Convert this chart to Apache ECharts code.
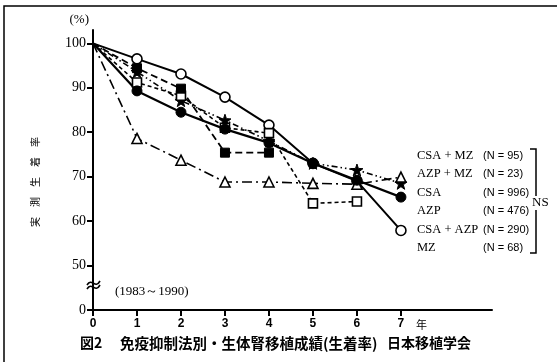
<!DOCTYPE html>
<html><head><meta charset="utf-8">
<script src="https://cdn.jsdelivr.net/npm/echarts@6/dist/echarts.min.js"></script>
<style>html,body{margin:0;padding:0;background:#fff}#c{width:557px;height:362px}</style>
</head><body><div id="c"></div>
<script>
const years = [0, 1, 2, 3, 4, 5, 6, 7];
const xTicks = [0, 1, 2, 3, 4, 5, 6, 7];
const yTicks = [40, 50, 60, 70, 80, 90, 100];
const yTickLabels = {40: '0', 50: '50', 60: '60', 70: '70', 80: '80', 90: '90', 100: '100'};
const names = ['CSA + MZ', 'AZP + MZ', 'CSA', 'AZP', 'CSA + AZP', 'MZ'];
const counts = [95, 23, 996, 476, 290, 68];
const csaMz  = [100, 93.6, 87.1, 82.7, 78.0, 73.0, 71.5, 68.5];
const azpMz  = [100, 94.4, 89.8, 75.4, 75.4];
const csa    = [100, 89.3, 84.5, 80.7, 77.6, 73.0, 69.2, 65.4];
const azp    = [100, 96.5, 93.1, 87.9, 81.6, 73.0, 69.0, 57.9];
const csaAzp = [100, 91.2, 88.2, 81.0, 79.8, 64.0, 64.4];
const mz     = [100, 78.6, 73.7, 68.8, 68.8, 68.5, 68.3, 69.9];

const star = 'path://M5,0 L6.2,3.6 L10,3.8 L7,6.1 L8.1,9.8 L5,7.6 L1.9,9.8 L3,6.1 L0,3.8 L3.8,3.6 Z';
const pair = arr => arr.map((v, i) => i === 0 ? {value: [years[i], v], symbol: 'none'} : [years[i], v]);
const openStyle = {color: '#fff', borderColor: '#000', borderWidth: 1.6};
const fillStyle = {color: '#000', borderColor: '#000', borderWidth: 1};

function mk(name, data, symbol, size, item, dash, width) {
  return {
    name, type: 'line', data: pair(data), symbol, symbolSize: size,
    showSymbol: true, itemStyle: item, animation: false,
    lineStyle: {color: '#000', width: width, type: dash},
    emphasis: {disabled: true}
  };
}

const chart = echarts.init(document.getElementById('c'));
const serif = 'Liberation Serif';
chart.setOption({
  animation: false,
  grid: {left: 93, right: 65, top: 30, bottom: 52},
  xAxis: {
    type: 'value', min: 0, max: 9.07,
    axisLine: {lineStyle: {color: '#000', width: 2}},
    axisTick: {show: true, length: 6, lineStyle: {color: '#000', width: 2}, customValues: xTicks},
    axisLabel: {customValues: xTicks, color: '#000', fontFamily: 'Liberation Sans', fontWeight: 'bold', fontSize: 12, margin: 8},
    splitLine: {show: false}
  },
  yAxis: {
    type: 'value', min: 40, max: 103,
    name: '(%)', nameLocation: 'end', nameGap: 4,
    nameTextStyle: {color: '#000', fontFamily: serif, fontSize: 13, align: 'right', padding: [0, 4, 0, 0]},
    axisLine: {show: true, lineStyle: {color: '#000', width: 2}},
    axisTick: {show: true, length: 6, lineStyle: {color: '#000', width: 2}, customValues: yTicks},
    axisLabel: {customValues: yTicks, formatter: v => yTickLabels[v] || '', color: '#000', fontFamily: serif, fontSize: 14, margin: 7},
    splitLine: {show: false}
  },
  legend: {
    orient: 'vertical', left: 412, top: 149, icon: 'rect', itemWidth: 0, itemHeight: 0,
    itemGap: 5.5, selectedMode: false, padding: 0,
    itemStyle: {color: 'transparent', borderWidth: 0}, lineStyle: {width: 0},
    data: names,
    formatter: n => '{a|' + n + '}{b|(N = ' + counts[names.indexOf(n)] + ')}',
    textStyle: {
      rich: {
        a: {fontFamily: serif, fontSize: 12.5, color: '#000', width: 66, lineHeight: 14},
        b: {fontFamily: 'Liberation Sans', fontSize: 11, color: '#000', lineHeight: 14}
      }
    }
  },
  series: [
    mk('AZP', azp, 'circle', 10, openStyle, 'solid', 2),
    mk('CSA + MZ', csaMz, star, 12, fillStyle, [6, 3, 1.5, 3, 1.5, 3], 1.6),
    mk('CSA + AZP', csaAzp, 'rect', 9, openStyle, [4, 3], 1.6),
    mk('AZP + MZ', azpMz, 'rect', 9, fillStyle, [7, 4], 1.8),
    mk('MZ', mz, 'triangle', 10, openStyle, [10, 4, 2, 4], 1.6),
    mk('CSA', csa, 'circle', 10, fillStyle, 'solid', 2.2)
  ],
  graphic: [
    {type: 'rect', shape: {x: 4, y: 6, width: 700, height: 500}, style: {fill: null, stroke: '#000', lineWidth: 1.5}, silent: true},
    {type: 'bezierCurve', shape: {x1: 87, y1: 285, x2: 100, y2: 281, cpx1: 92, cpy1: 277, cpx2: 95, cpy2: 290}, style: {fill: null, stroke: '#000', lineWidth: 1.6}},
    {type: 'bezierCurve', shape: {x1: 87, y1: 289, x2: 100, y2: 285, cpx1: 92, cpy1: 281, cpx2: 95, cpy2: 294}, style: {fill: null, stroke: '#000', lineWidth: 1.6}},
    {type: 'text', x: 115, y: 292, style: {text: '(1983～1990)', font: '13px "Liberation Serif"', fill: '#000', verticalAlign: 'middle'}},
    {type: 'text', x: 416, y: 325, style: {text: '年', font: '11px "Noto Sans CJK JP"', fill: '#000', verticalAlign: 'middle'}},
    {type: 'text', x: 35, y: 182, rotation: Math.PI / 2, style: {text: '実　測　生　着　率', font: '10px "Noto Sans CJK JP"', fill: '#000', align: 'center', verticalAlign: 'middle'}},
    {type: 'text', x: 80, y: 343, style: {text: '図2', font: 'bold 14px "Noto Sans CJK JP"', fill: '#000', verticalAlign: 'middle'}},
    {type: 'text', x: 120, y: 343, style: {text: '免疫抑制法別・生体腎移植成績(生着率)', font: 'bold 14.5px "Noto Sans CJK JP"', fill: '#000', verticalAlign: 'middle'}},
    {type: 'text', x: 387, y: 343, style: {text: '日本移植学会', font: 'bold 14px "Noto Sans CJK JP"', fill: '#000', verticalAlign: 'middle'}},
    {type: 'polyline', shape: {points: [[530, 149], [536, 149], [536, 196]]}, style: {fill: null, stroke: '#000', lineWidth: 1.5}},
    {type: 'polyline', shape: {points: [[536, 210], [536, 253], [530, 253]]}, style: {fill: null, stroke: '#000', lineWidth: 1.5}},
    {type: 'text', x: 532, y: 203, style: {text: 'NS', font: '13px "Liberation Serif"', fill: '#000', verticalAlign: 'middle'}}
  ]
});
</script></body></html>
